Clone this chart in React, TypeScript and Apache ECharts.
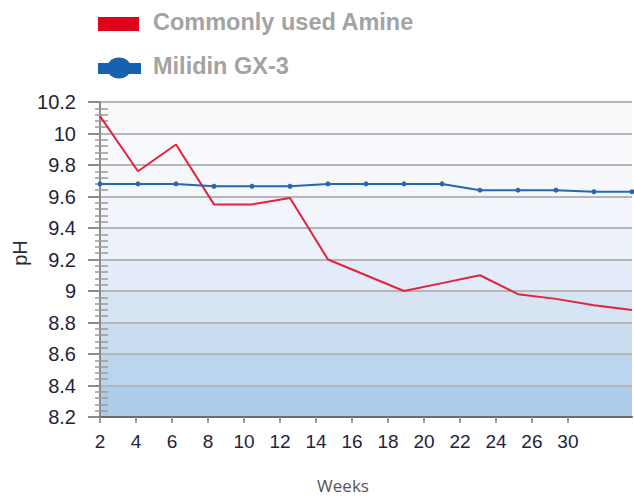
import React, { useEffect, useRef } from "react";
import * as echarts from "echarts";

// ---- data ----
const weeks = ["2", "4", "6", "8", "10", "12", "14", "16", "18", "20", "22", "24", "26", "28", "30"];
const amine = [10.11, 9.76, 9.93, 9.55, 9.55, 9.59, 9.2, 9.1, 9.0, 9.05, 9.1, 8.98, 8.95, 8.91, 8.88];
const milidin = [9.68, 9.68, 9.68, 9.665, 9.665, 9.665, 9.68, 9.68, 9.68, 9.68, 9.64, 9.64, 9.64, 9.63, 9.63];
const weekTickLabels = ["2", "4", "6", "8", "10", "12", "14", "16", "18", "20", "22", "24", "26", "30"];
const seriesNames = ["Commonly used Amine", "Milidin GX-3"];
const yMin = 8.2;
const yMax = 10.2;
const yStep = 0.2;

// ---- styles ----
const bandColors = [
  "#fafafc", "#f8f9fc", "#f6f7fb", "#f2f5fb", "#ecf1f9",
  "#e2ebf7", "#d6e4f4", "#c9ddf1", "#bbd5ee", "#aecdea",
];

export default function App() {
  const ref = useRef<HTMLDivElement>(null);

  useEffect(() => {
    if (!ref.current) return;
    const chart = echarts.init(ref.current, undefined, { renderer: "svg" });

    const stops: any[] = [];
    bandColors.forEach((c, i) => {
      stops.push({ offset: i / bandColors.length, color: c });
      stops.push({ offset: (i + 1) / bandColors.length, color: c });
    });

    const labelTicks = weekTickLabels.map((_, i) => i);
    const font = "'Liberation Sans', Arial, sans-serif";

    chart.setOption({
      animation: false,
      grid: {
        left: 100,
        right: 2,
        top: 102,
        bottom: 80,
        show: true,
        borderWidth: 0,
        backgroundColor: {
          type: "linear",
          x: 0,
          y: 0,
          x2: 0,
          y2: 1,
          colorStops: stops,
        },
      },
      xAxis: [
        {
          type: "category",
          data: weeks,
          boundaryGap: false,
          position: "top",
          show: false,
        },
        {
          type: "value",
          position: "bottom",
          min: 0,
          max: 14.78,
          splitLine: { show: false },
          axisLine: { show: true, lineStyle: { color: "#6a6a6a", width: 2 } },
          axisTick: {
            show: true,
            length: 6,
            customValues: labelTicks,
            lineStyle: { color: "#9a9a9a", width: 2 },
          },
          axisLabel: {
            customValues: labelTicks,
            formatter: (v: number) => weekTickLabels[Math.round(v)] ?? "",
            margin: 15,
            fontSize: 19,
            fontFamily: font,
            color: "#23233d",
          },
        },
      ],
      yAxis: [
        {
          type: "value",
          position: "left",
          min: yMin,
          max: yMax,
          interval: yStep,
          axisLine: { show: true, lineStyle: { color: "#8c8c8c", width: 2 } },
          axisTick: { show: true, length: 12, lineStyle: { color: "#8c8c8c", width: 2 } },
          minorTick: { show: true, splitNumber: 5, length: 5, lineStyle: { color: "#9a9a9a", width: 1.5 } },
          splitLine: { show: true, lineStyle: { color: "#b6b6b6", width: 2 } },
          axisLabel: {
            margin: 24,
            fontSize: 20,
            fontFamily: font,
            color: "#23233d",
          },
        },
        {
          type: "value",
          position: "right",
          offset: -532,
          min: yMin,
          max: yMax,
          interval: yStep,
          axisLine: { show: false },
          axisTick: { show: false, inside: false },
          minorTick: { show: true, splitNumber: 5, length: 8, lineStyle: { color: "#9a9a9a", width: 1.5 } },
          splitLine: { show: false },
          axisLabel: { show: false },
        },
      ],
      series: [
        {
          name: seriesNames[0],
          type: "line",
          xAxisIndex: 0,
          yAxisIndex: 0,
          data: amine,
          showSymbol: false,
          symbol: "none",
          lineStyle: { color: "#e3223c", width: 2 },
          itemStyle: { color: "#e3223c" },
          z: 3,
        },
        {
          name: seriesNames[1],
          type: "line",
          xAxisIndex: 0,
          yAxisIndex: 0,
          data: milidin,
          symbol: "circle",
          symbolSize: 5,
          showSymbol: true,
          lineStyle: { color: "#2467b2", width: 2 },
          itemStyle: { color: "#2467b2" },
          z: 4,
        },
      ],
      graphic: [
        { type: "rect", shape: { x: 98, y: 17, width: 41, height: 14 }, style: { fill: "#e2001a" } },
        {
          type: "text",
          x: 153,
          y: 22,
          style: {
            text: seriesNames[0],
            fontSize: 23.5,
            fontWeight: "bold",
            fontFamily: font,
            fill: "#a3a3a3",
            align: "left",
            verticalAlign: "middle",
          },
        },
        { type: "rect", shape: { x: 98, y: 63, width: 43, height: 11 }, style: { fill: "#1761ae" } },
        { type: "ellipse", shape: { cx: 119, cy: 68, rx: 12, ry: 10.5 }, style: { fill: "#1761ae" } },
        {
          type: "text",
          x: 153,
          y: 66,
          style: {
            text: seriesNames[1],
            fontSize: 23.5,
            fontWeight: "bold",
            fontFamily: font,
            fill: "#a3a3a3",
            align: "left",
            verticalAlign: "middle",
          },
        },
        {
          type: "text",
          x: 20,
          y: 253,
          rotation: Math.PI / 2,
          style: {
            text: "pH",
            fontSize: 20,
            fontFamily: font,
            fill: "#2a2a2a",
            align: "center",
            verticalAlign: "middle",
          },
        },
        {
          type: "text",
          x: 343,
          y: 485,
          style: {
            text: "Weeks",
            fontSize: 17,
            fontFamily: "'Open Sans', sans-serif",
            fill: "#555555",
            align: "center",
            verticalAlign: "middle",
          },
        },
      ],
    });

    return () => chart.dispose();
  }, []);

  return (
    <div
      ref={ref}
      style={{ position: "fixed", left: 0, top: 0, width: 634, height: 497, background: "#ffffff" }}
    />
  );
}
